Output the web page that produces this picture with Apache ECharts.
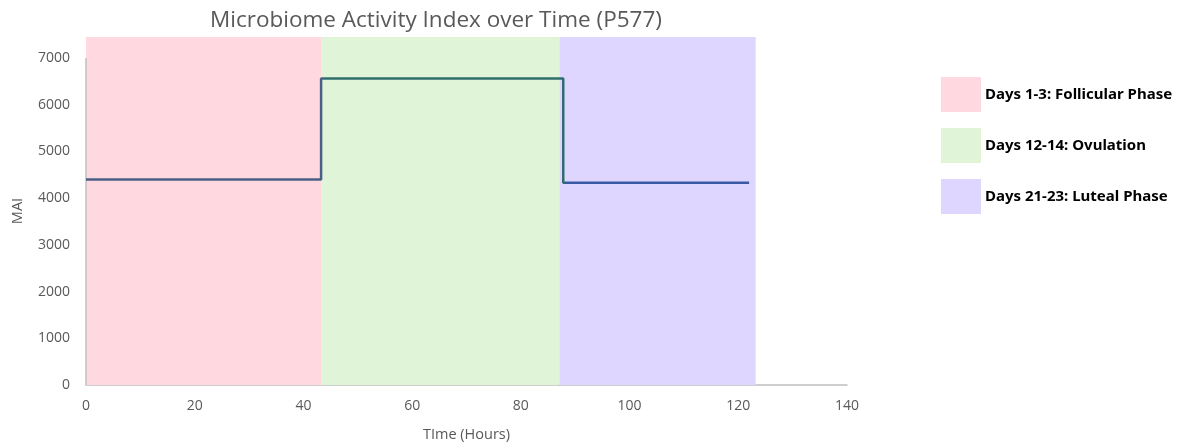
<!DOCTYPE html>
<html>
<head>
<meta charset="utf-8">
<script src="https://cdn.jsdelivr.net/npm/echarts@6/dist/echarts.min.js"></script>
<style>
  html, body { margin: 0; padding: 0; background: #fff; }
  #chart { width: 1191px; height: 444px; }
</style>
</head>
<body>
<div id="chart"></div>
<script>
// Microbiome Activity Index (MAI) readings, held as a step function over time
const timeHours = [0, 43.25, 87.8, 122];
const maiValues = [4400, 6560, 4330, 4330];

// Cycle phases shaded behind the curve
const phaseNames = ['Days 1-3: Follicular Phase', 'Days 12-14: Ovulation', 'Days 21-23: Luteal Phase'];
const phaseStart = [0, 43.25, 87.1];
const phaseEnd = [43.25, 87.1, 123.2];
const phaseColors = ['#ffd9df', '#e0f5d8', '#ded6ff'];

const yTicks = [0, 1000, 2000, 3000, 4000, 5000, 6000, 7000];
const xTicks = [0, 20, 40, 60, 80, 100, 120, 140];

const chart = echarts.init(document.getElementById('chart'));
const font = 'Open Sans';

const phaseSeries = phaseNames.map((name, i) => ({
  name: name,
  type: 'line',
  data: [],
  itemStyle: { color: phaseColors[i] },
  lineStyle: { width: 0 },
  markArea: {
    silent: true,
    itemStyle: { color: phaseColors[i] },
    data: [[{ xAxis: phaseStart[i], yAxis: 0 }, { xAxis: phaseEnd[i], y: 37 }]]
  }
}));

chart.setOption({
  animation: false,
  title: {
    text: 'Microbiome Activity Index over Time (P577)',
    left: 431, top: 4, textAlign: 'center',
    textStyle: { fontFamily: font, fontSize: 22.5, fontWeight: 'normal', color: '#595959' }
  },
  legend: {
    data: phaseNames,
    orient: 'vertical',
    left: 936, top: 72,
    icon: 'rect',
    itemWidth: 40, itemHeight: 35, itemGap: 16,
    textStyle: { fontFamily: 'Noto Sans', fontSize: 15, fontWeight: 'bold', color: '#000', padding: [0, 0, 0, -1] },
    selectedMode: false
  },
  grid: { left: 86, right: 344, top: 37, bottom: 59, outerBoundsMode: 'none', containLabel: false },
  xAxis: {
    type: 'value', min: 0, max: 140, interval: 20,
    name: 'TIme (Hours)', nameLocation: 'middle', nameGap: 42,
    nameTextStyle: { fontFamily: font, fontSize: 14.5, color: '#595959' },
    axisLine: { show: true, lineStyle: { color: '#bfbfbf', width: 1.5 } },
    axisTick: { show: false },
    splitLine: { show: false },
    axisLabel: {
      fontFamily: font, fontSize: 14, color: '#595959', margin: 14,
      formatter: v => (xTicks.includes(v) ? String(v) : '')
    }
  },
  yAxis: {
    type: 'value', min: 0, max: 7450, interval: 1000,
    name: 'MAI', nameLocation: 'middle', nameGap: 61, nameRotate: 90,
    nameTextStyle: { fontFamily: font, fontSize: 14.5, color: '#595959' },
    axisLine: { show: false },
    axisTick: { show: false },
    splitLine: { show: false },
    axisLabel: {
      fontFamily: font, fontSize: 14, color: '#595959', margin: 16,
      showMaxLabel: false,
      formatter: v => (yTicks.includes(v) ? String(v) : '')
    }
  },
  series: [
    ...phaseSeries,
    {
      name: 'MAI',
      type: 'line',
      step: 'end',
      z: 5,
      symbol: 'none',
      data: timeHours.map((t, i) => [t, maiValues[i]]),
      lineStyle: {
        width: 2.5,
        color: new echarts.graphic.LinearGradient(0, 0, 1, 0, [
          { offset: 0, color: '#4a5e86' },
          { offset: 0.36, color: '#4a5e86' },
          { offset: 0.36, color: '#2f6e6c' },
          { offset: 0.72, color: '#2f6e6c' },
          { offset: 0.72, color: '#3b5aa6' },
          { offset: 1, color: '#3b5aa6' }
        ])
      },
      // vertical value axis line, drawn only up to the top tick
      markLine: {
        silent: true,
        symbol: 'none',
        label: { show: false },
        lineStyle: { color: '#bfbfbf', width: 1.5, type: 'solid' },
        data: [[{ coord: [0, 0] }, { coord: [0, 7000] }]]
      }
    }
  ]
});
</script>
</body>
</html>
